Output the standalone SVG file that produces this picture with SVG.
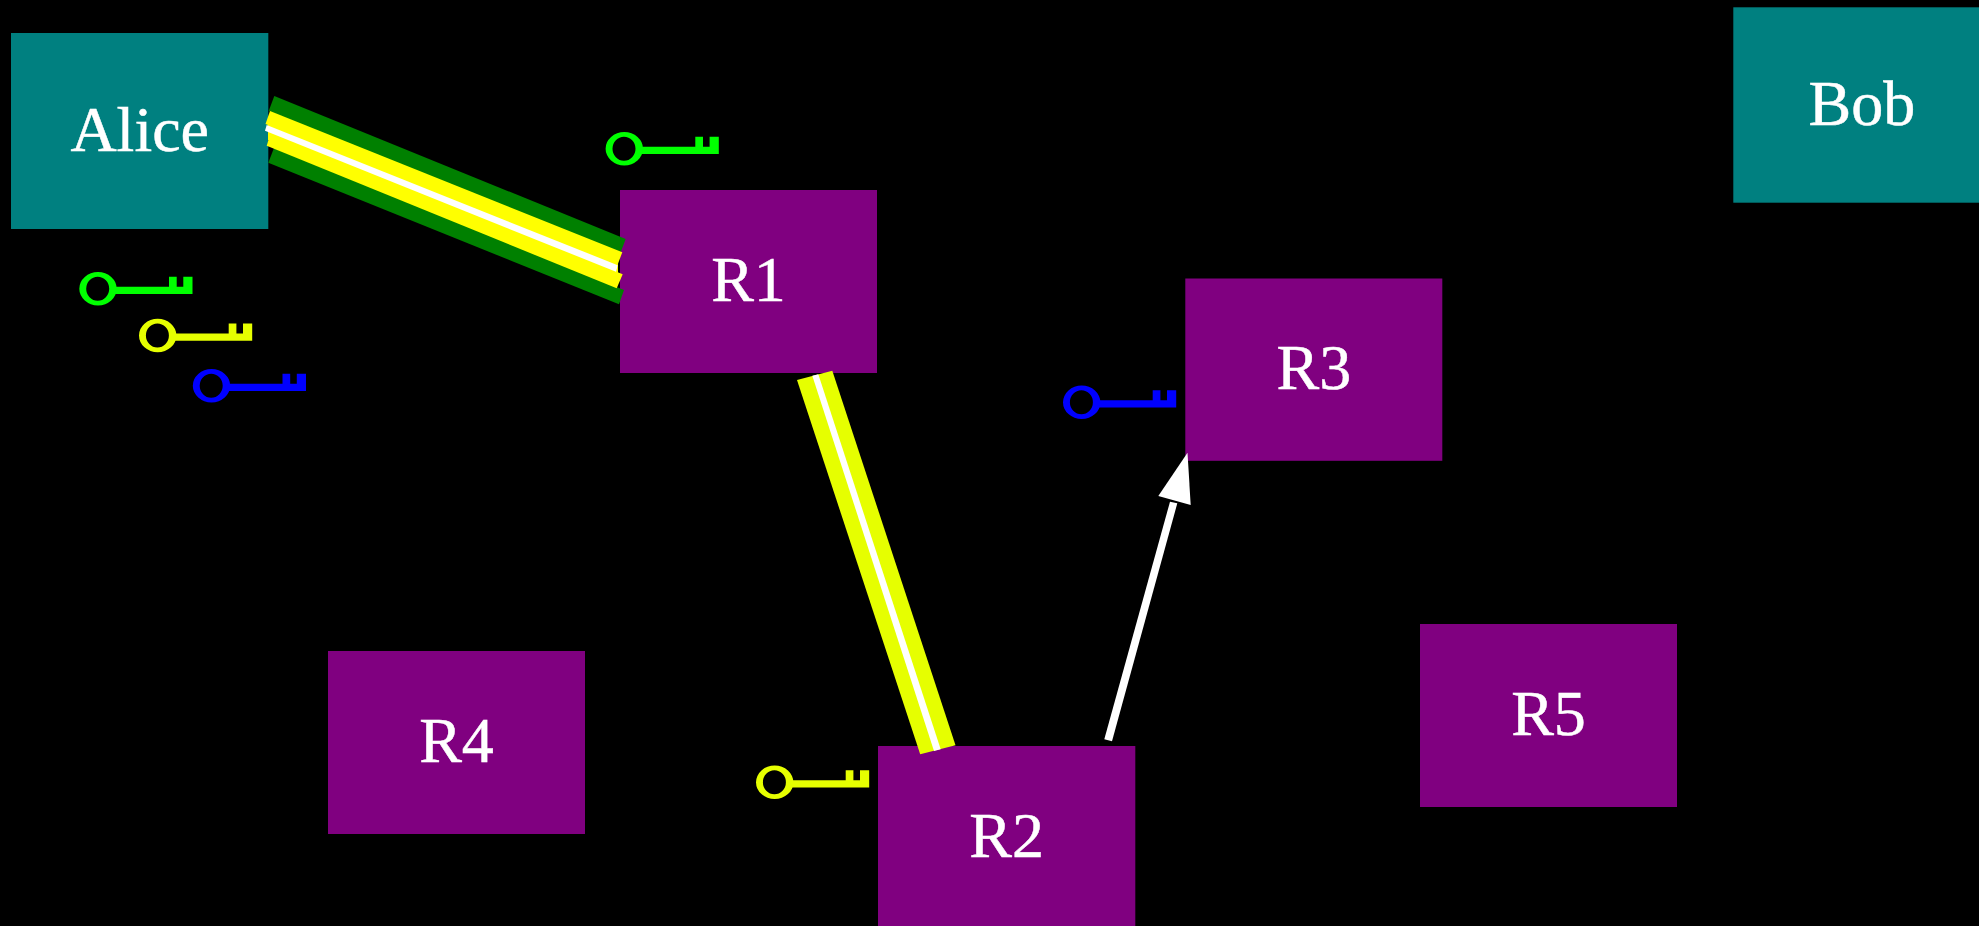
<svg xmlns="http://www.w3.org/2000/svg" xmlns:xlink="http://www.w3.org/1999/xlink" width="1979" height="926" viewBox="0 0 1979 926">
<style>
.teal{fill:#008080}
.purple{fill:#800080}
text{font-family:"Liberation Serif","Times New Roman",serif;font-size:64px;fill:#fff;stroke:#fff;stroke-width:.5px;text-anchor:middle}
.g{fill:#008000}.y{fill:#ffff00}.l{fill:#e6ff00}.w{fill:#fff}
</style>
<defs>
<g id="key">
<path fill-rule="evenodd" d="M-18.7 0A18.7 16.7 0 1 1 18.7 0A18.7 16.7 0 1 1 -18.7 0ZM-11.8 0A11.5 12 0 1 0 11.2 0A11.5 12 0 1 0 -11.8 0Z"/>
<path d="M16.5 -2H71V-12H78.7V-2H85.3V-12H94.5V5.2H16.5Z"/>
</g>
</defs>
<rect width="1979" height="926" fill="#000"/>
<g id="alice"><rect class="teal" x="11" y="33" width="257.3" height="196"/><text x="139.7" y="150.5">Alice</text></g>
<g id="bob"><rect class="teal" x="1733.3" y="7.3" width="246" height="195.4"/><text x="1861.8" y="124.5">Bob</text></g>
<g id="r1"><rect class="purple" x="620" y="190" width="257" height="183"/><text x="748.5" y="301">R1</text></g>
<g id="r2"><rect class="purple" x="878" y="746" width="257.3" height="181"/><text x="1006.6" y="857">R2</text></g>
<g id="r3"><rect class="purple" x="1185.3" y="278.5" width="257" height="182.3"/><text x="1313.8" y="389.1">R3</text></g>
<g id="r4"><rect class="purple" x="328" y="651" width="257" height="183"/><text x="456.5" y="762">R4</text></g>
<g id="r5"><rect class="purple" x="1420" y="624" width="257" height="183"/><text x="1548.5" y="735">R5</text></g>
<g id="connectors">
<polygon class="g" points="274.3,96 625.7,239 620,254 268.7,111"/>
<polygon class="g" points="274,148 624,290 619,304.3 268.3,162.7"/>
<polygon class="y" points="270,111 622.3,252.3 617.5,265 265.5,124"/>
<polygon class="y" points="271,131.7 622.7,274.3 616.7,288.3 266.7,145.7"/>
<polygon class="y" points="268,118 618,258 618,281 268,140"/>
<polygon class="w" points="266.7,125 617.7,265.2 616,271.8 265,130.8"/>
<polygon class="l" points="797,380 832.3,370.7 955.5,745.3 920.2,754.3"/>
<polygon class="w" points="812.3,375.7 818.3,374.3 940.7,749.3 934,751"/>
<polygon class="w" points="1104.3,739.3 1112,741.3 1177.3,503.3 1170,501.7"/>
<polygon class="w" points="1187.5,452.7 1158.3,496 1190.7,505"/>
</g>
<g id="key-alice-green"><use xlink:href="#key" href="#key" x="98" y="288.7" fill="#00ff00"/></g>
<g id="key-alice-yellow"><use xlink:href="#key" href="#key" x="157.7" y="335.5" fill="#e6ff00"/></g>
<g id="key-alice-blue"><use xlink:href="#key" href="#key" x="211.5" y="385.7" fill="#0000ff"/></g>
<g id="key-r1-green"><use xlink:href="#key" href="#key" x="624.3" y="148.7" fill="#00ff00"/></g>
<g id="key-r2-yellow"><use xlink:href="#key" href="#key" x="774.7" y="782.3" fill="#e6ff00"/></g>
<g id="key-r3-blue"><use xlink:href="#key" href="#key" x="1081.7" y="402.3" fill="#0000ff"/></g>
</svg>
